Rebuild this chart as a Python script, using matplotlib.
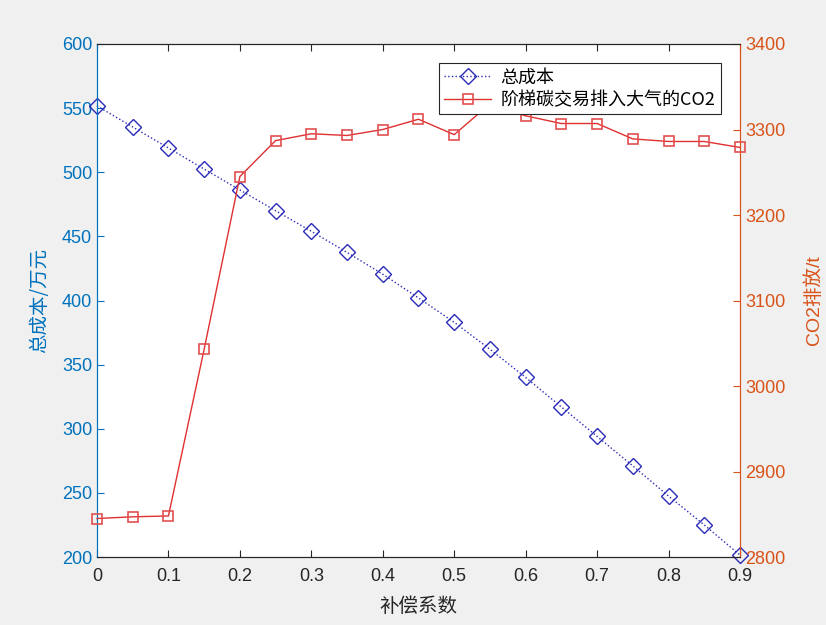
import matplotlib.pyplot as plt

plt.rcParams['font.family'] = ['Liberation Sans', 'Noto Sans CJK SC', 'DejaVu Sans']

# 补偿系数
k = [0, 0.05, 0.1, 0.15, 0.2, 0.25, 0.3, 0.35, 0.4, 0.45,
     0.5, 0.55, 0.6, 0.65, 0.7, 0.75, 0.8, 0.85, 0.9]
# 总成本 (万元)
cost = [551.7, 535.3, 518.9, 502.5, 486.2, 470.0, 454.0, 437.5, 420.5, 402.0,
        383.0, 362.0, 340.0, 317.0, 294.0, 271.0, 247.5, 225.0, 201.5]
# 阶梯碳交易排入大气的CO2 (t)
co2 = [2845, 2847, 2848, 3043, 3245, 3287, 3295, 3293, 3300, 3312,
       3294, 3330, 3316, 3307, 3307, 3289, 3286, 3286, 3279]

blue_ax = '#0072BD'
orange_ax = '#D95319'
gray = '#262626'

fig = plt.figure(figsize=(8.26, 6.25), dpi=100)
fig.patch.set_facecolor('#f0f0f0')
ax = fig.add_axes([0.1174, 0.1088, 0.7785, 0.8208])
ax2 = ax.twinx()

l1, = ax.plot(k, cost, linestyle=':', color='#2a2ab8', linewidth=1.0,
              marker='D', markersize=8, markerfacecolor='none',
              markeredgecolor='#2a2ab8', markeredgewidth=1.0, label='总成本',
              clip_on=False, zorder=3)
l2, = ax2.plot(k, co2, linestyle='-', color='#e03030', linewidth=1.0,
               marker='s', markersize=7.5, markerfacecolor='none',
               markeredgecolor='#e05050', markeredgewidth=1.2,
               label='阶梯碳交易排入大气的CO2', clip_on=False, zorder=3)

ax.set_xlim(0, 0.9)
ax.set_ylim(200, 600)
ax2.set_ylim(2800, 3400)
ax.set_xticks([0, 0.1, 0.2, 0.3, 0.4, 0.5, 0.6, 0.7, 0.8, 0.9])
ax.set_xticklabels(['0', '0.1', '0.2', '0.3', '0.4', '0.5', '0.6', '0.7', '0.8', '0.9'])
ax.set_yticks(range(200, 601, 50))
ax2.set_yticks(range(2800, 3401, 100))

ax.tick_params(axis='x', direction='in', top=True, colors=gray, labelsize=13, length=5, pad=8)
ax.tick_params(axis='y', direction='in', colors=blue_ax, labelsize=13, length=5)
ax2.tick_params(axis='y', direction='in', colors=orange_ax, labelsize=13, length=5)

for a in (ax, ax2):
    a.spines['top'].set_color(gray)
    a.spines['bottom'].set_color(gray)
    a.spines['left'].set_color(blue_ax)
    a.spines['right'].set_color(orange_ax)

ax.set_xlabel('补偿系数', color=gray, fontsize=14, labelpad=8, family=['Noto Sans CJK SC'])
ax.set_ylabel('总成本/万元', color=blue_ax, fontsize=14, labelpad=8, family=['Noto Sans CJK SC'])
ax2.set_ylabel('CO2排放/t', color=orange_ax, fontsize=14, labelpad=14,
               family=['Liberation Sans', 'Noto Sans CJK SC'])

leg = ax2.legend(handles=[l1, l2], loc='upper right', bbox_to_anchor=(0.97, 0.963),
                 frameon=True, fancybox=False, framealpha=1,
                 edgecolor='#262626', borderpad=0.3, labelspacing=0.25,
                 handlelength=2.6, handletextpad=0.5, borderaxespad=0,
                 prop={'family': ['Noto Sans CJK SC'], 'size': 13})
leg.get_frame().set_linewidth(0.8)
leg.set_zorder(10)

fig.savefig('out.png', dpi=100, facecolor=fig.get_facecolor())
